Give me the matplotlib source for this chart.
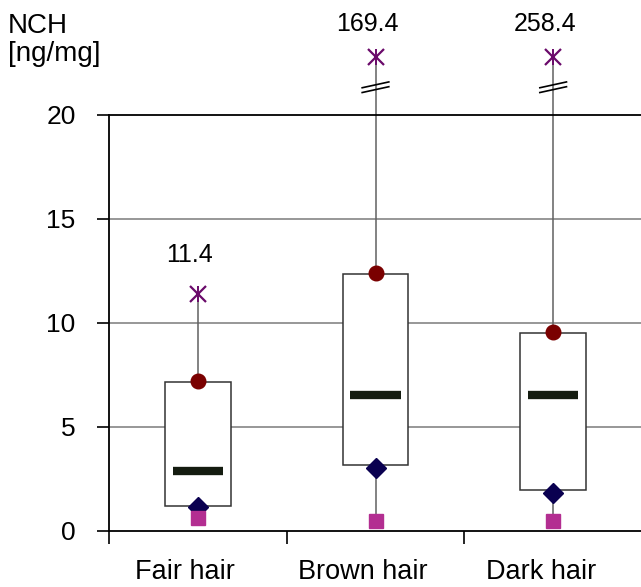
import matplotlib
matplotlib.use("Agg")
import matplotlib.pyplot as plt
import numpy as np

plt.rcParams['font.family'] = ['Liberation Sans', 'DejaVu Sans']

categories = ["Fair hair", "Brown hair", "Dark hair"]
maximum = [11.4, 169.4, 258.4]
upper = [7.2, 12.4, 9.55]
q3 = [7.15, 12.35, 9.5]
median = [2.9, 6.55, 6.55]
q1 = [1.2, 3.15, 1.97]
lower = [1.15, 3.05, 1.85]
minimum = [0.62, 0.5, 0.5]

ymax_axis = 20
broken_pos = 22.8   # plotted height for values beyond the axis
label_offsets_px = [39, 33, 33]

fig = plt.figure(figsize=(6.41, 5.87), dpi=100)
ax = fig.add_axes([109/641, 56/587, 533/641, 416/587])
ax.set_xlim(0, 3)
ax.set_ylim(0, ymax_axis)

# grid
for g in [5, 10, 15]:
    ax.axhline(g, color='#7a7a7a', lw=1.1, zorder=0)

ax.spines['right'].set_visible(False)
for s in ['left', 'bottom', 'top']:
    ax.spines[s].set_color('black')
    ax.spines[s].set_linewidth(1.3)

box_w = 0.37
med_w = 0.285
for i, cat in enumerate(categories):
    c = i + 0.5
    top_val = maximum[i] if maximum[i] <= ymax_axis else broken_pos
    # whisker line
    ax.plot([c, c], [minimum[i], top_val], color='#606060', lw=1.1, zorder=1, clip_on=False)
    # box
    ax.add_patch(plt.Rectangle((c - box_w/2, q1[i]), box_w, q3[i] - q1[i],
                               facecolor='white', edgecolor='#333333', lw=1.1, zorder=2))
    # median
    ax.plot([c - med_w/2, c + med_w/2], [median[i], median[i]], color='#141c10',
            lw=6, solid_capstyle='butt', zorder=3)
    # markers
    ax.plot(c, upper[i], 'o', color='#7a0000', ms=10.5, zorder=4, clip_on=False)
    ax.plot(c, lower[i], 'D', color='#0a0050', ms=10, zorder=4, clip_on=False)
    ax.plot(c, minimum[i], 's', color='#b32e91', ms=10.5, zorder=4, clip_on=False)
    ax.plot(c, top_val, 'x', color='#6a0a6a', ms=11, mew=1.6, zorder=5, clip_on=False)
    ax.plot(c, top_val, '|', color='#6a0a6a', ms=12, mew=1.4, zorder=5, clip_on=False)
    ax.annotate(f"{maximum[i]:.1f}", (c, top_val),
                xytext=(-6, label_offsets_px[i] * 0.72), textcoords='offset points',
                ha='center', va='center', fontsize=18, annotation_clip=False)
    if maximum[i] > ymax_axis:
        for yb in [21.45, 21.22]:
            ax.plot([c - 0.075, c + 0.075], [yb - 0.14, yb + 0.14], color='black',
                    lw=1.2, zorder=5, clip_on=False)

ax.set_yticks([0, 5, 10, 15, 20])
ax.set_yticklabels(['0', '5', '10', '15', '20'], fontsize=19)
ax.tick_params(axis='y', direction='out', length=9, width=1.2, pad=15)

ax.set_xticks([0, 1, 2, 3])
ax.set_xticklabels([])
ax.tick_params(axis='x', direction='out', length=9, width=1.2)
ax.set_xticks([i + 0.43 for i in range(3)], minor=True)
ax.set_xticklabels(categories, minor=True, fontsize=19.5)
ax.tick_params(axis='x', which='minor', length=0, pad=20)

fig.text(8/641, 1 - 40/587, "NCH\n[ng/mg]", fontsize=20, ha='left', va='center',
         linespacing=1.1)

fig.savefig("out.png", dpi=100)
